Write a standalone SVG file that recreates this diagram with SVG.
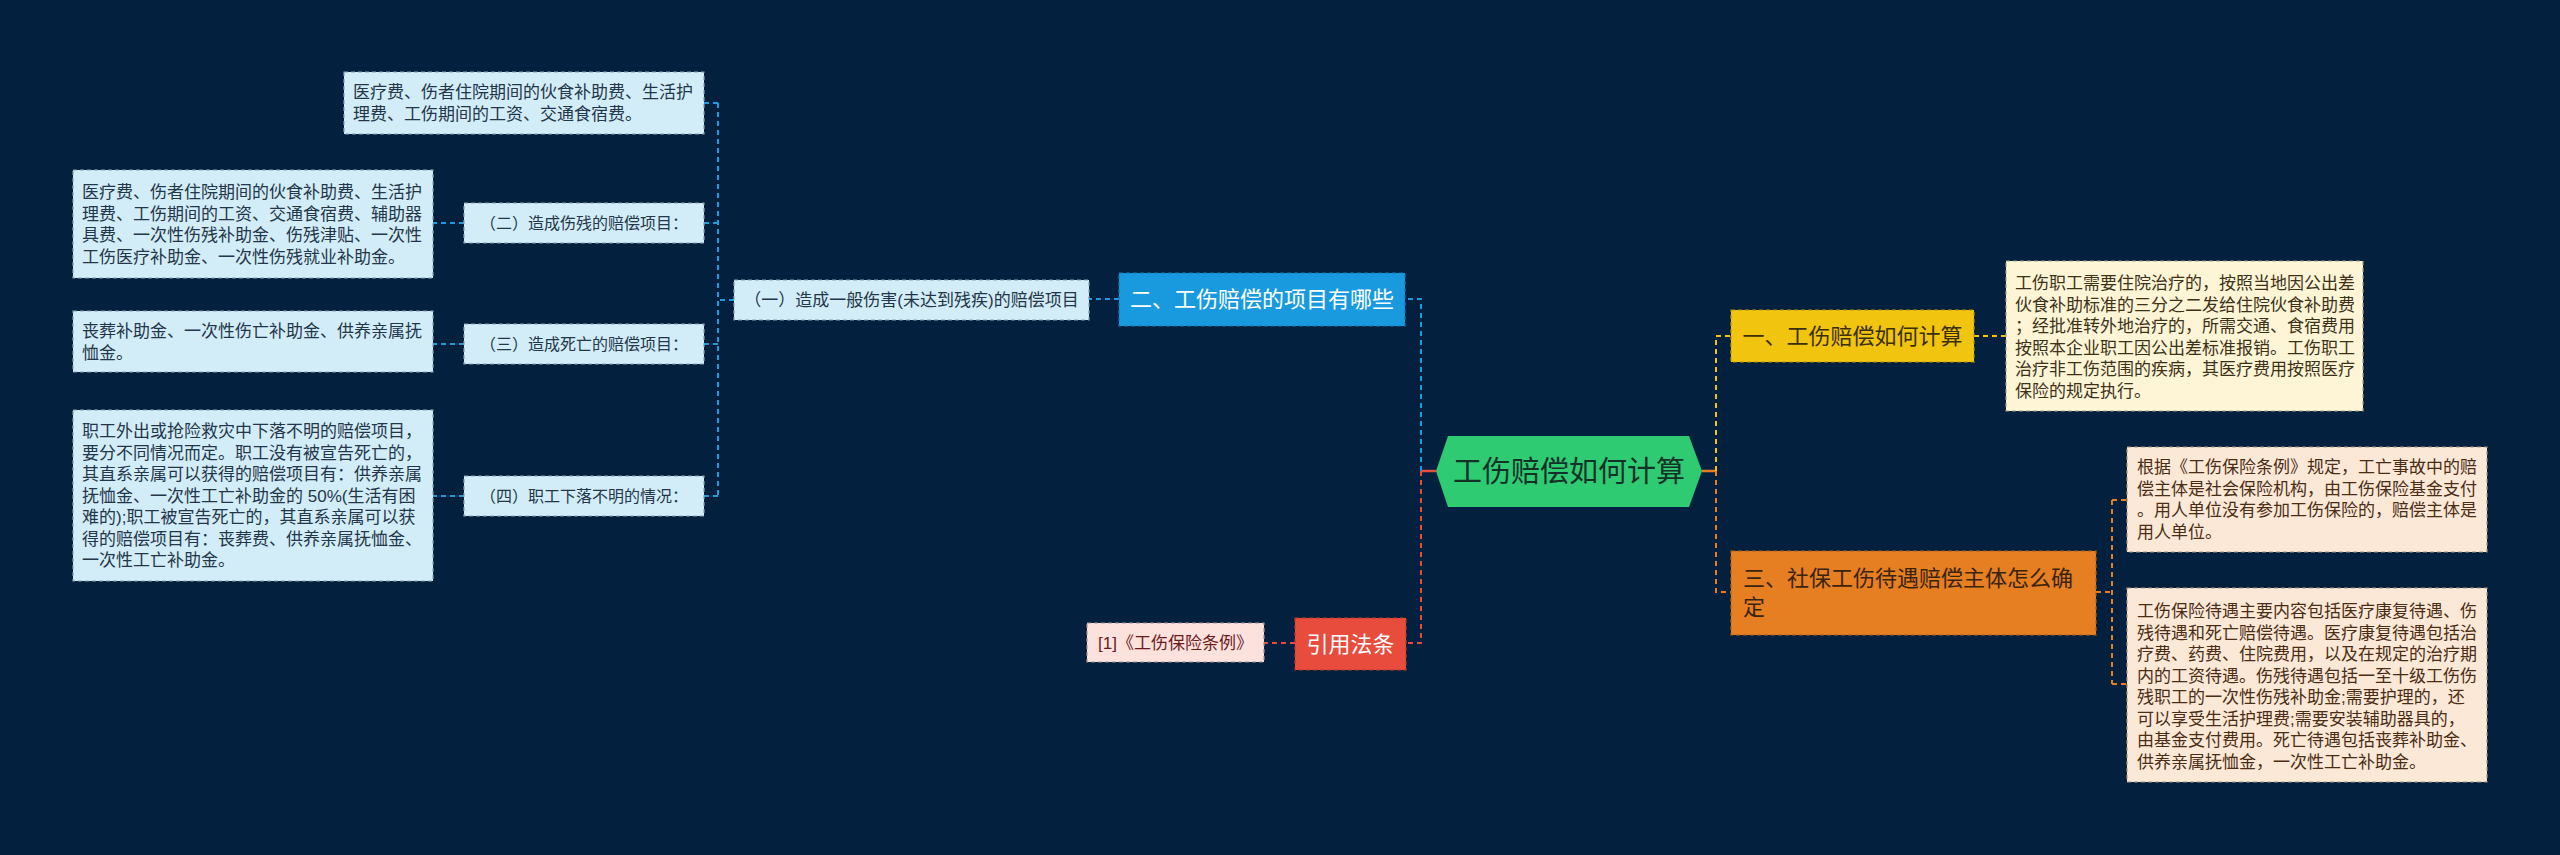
<svg xmlns="http://www.w3.org/2000/svg" width="2560" height="855" viewBox="0 0 2560 855">
<style>
text{font-family:"Liberation Sans","Noto Sans CJK SC",sans-serif}
.t17{font-size:17px}
.t16{font-size:16px}
.t22{font-size:22px}
.lb{fill:#d3edf8;stroke:#8a9fae;stroke-width:1.2;stroke-dasharray:4 3}
.lbt{fill:#24364a}
.cb{fill:#fdf5d6;stroke:#a89c80;stroke-width:1.2;stroke-dasharray:4 3}
.cbt{fill:#3d3218}
.pb{fill:#fce8d7;stroke:#a8947f;stroke-width:1.2;stroke-dasharray:4 3}
.pbt{fill:#4a2d14}
.cl{fill:none;stroke-width:2;stroke-dasharray:5 4}
.blue{stroke:#1e9be0}
.red{stroke:#e74c3c}
.yel{stroke:#f1c40f}
.org{stroke:#e67e22}
</style>
<rect x="0" y="0" width="2560" height="855" fill="#03213e"/>

<g id="connectors">
  <line x1="1436" y1="471" x2="1421" y2="471" stroke="#e74c3c" stroke-width="2.5"/>
  <path class="cl blue" d="M1421 471 V299 H1405"/>
  <path class="cl red" d="M1421 471 V643 H1406"/>
  <path class="cl red" d="M1295 643 H1264"/>
  <path class="cl blue" d="M1119 299 H1089"/>
  <path class="cl blue" d="M734 300 H718"/>
  <path class="cl blue" d="M718 103 V496"/>
  <path class="cl blue" d="M718 103 H704"/>
  <path class="cl blue" d="M718 223 H704"/>
  <path class="cl blue" d="M718 344 H704"/>
  <path class="cl blue" d="M718 496 H704"/>
  <path class="cl blue" d="M464 223 H433"/>
  <path class="cl blue" d="M464 344 H433"/>
  <path class="cl blue" d="M464 496 H433"/>
  <line x1="1702" y1="471" x2="1716" y2="471" stroke="#e67e22" stroke-width="2.5"/>
  <path class="cl yel" d="M1716 471 V336 H1731"/>
  <path class="cl yel" d="M1974 336 H2006"/>
  <path class="cl org" d="M1716 471 V592 H1731"/>
  <path class="cl org" d="M2096 592 H2112"/>
  <path class="cl org" d="M2112 500 V684"/>
  <path class="cl org" d="M2112 500 H2127"/>
  <path class="cl org" d="M2112 684 H2127"/>
</g>

<g id="center">
  <polygon points="1436,471 1448,436 1689,436 1702,471 1689,507 1448,507" fill="#2fcb72"/>
  <text x="1569" y="482" font-size="29" fill="#143128" text-anchor="middle">工伤赔偿如何计算</text>
</g>

<g id="node-b2">
  <rect x="1119" y="273" width="286" height="53" fill="#1a9ade" stroke="#1478b0" stroke-width="1.2" stroke-dasharray="4 3"/>
  <text x="1262" y="307" class="t22" fill="#ffffff" text-anchor="middle">二、工伤赔偿的项目有哪些</text>
</g>

<g id="node-b2-1">
  <rect class="lb" x="734" y="280" width="355" height="40"/>
  <text x="911.5" y="306" class="t17 lbt" text-anchor="middle">（一）造成一般伤害(未达到残疾)的赔偿项目</text>
</g>

<g id="node-a">
  <rect class="lb" x="344" y="72" width="360" height="62"/>
  <text class="t17 lbt" x="353" y="98">医疗费、伤者住院期间的伙食补助费、生活护</text>
  <text class="t17 lbt" x="353" y="120">理费、工伤期间的工资、交通食宿费。</text>
</g>

<g id="node-b2-2">
  <rect class="lb" x="464" y="203" width="240" height="40"/>
  <text x="584" y="229" class="t16 lbt" text-anchor="middle">（二）造成伤残的赔偿项目：</text>
</g>

<g id="node-b2-2-c">
  <rect class="lb" x="73" y="170" width="360" height="108"/>
  <text class="t17 lbt" x="82" y="198">医疗费、伤者住院期间的伙食补助费、生活护</text>
  <text class="t17 lbt" x="82" y="219.5">理费、工伤期间的工资、交通食宿费、辅助器</text>
  <text class="t17 lbt" x="82" y="241">具费、一次性伤残补助金、伤残津贴、一次性</text>
  <text class="t17 lbt" x="82" y="262.5">工伤医疗补助金、一次性伤残就业补助金。</text>
</g>

<g id="node-b2-3">
  <rect class="lb" x="464" y="324" width="240" height="40"/>
  <text x="584" y="350" class="t16 lbt" text-anchor="middle">（三）造成死亡的赔偿项目：</text>
</g>

<g id="node-b2-3-c">
  <rect class="lb" x="73" y="311" width="360" height="61"/>
  <text class="t17 lbt" x="82" y="337">丧葬补助金、一次性伤亡补助金、供养亲属抚</text>
  <text class="t17 lbt" x="82" y="358.5">恤金。</text>
</g>

<g id="node-b2-4">
  <rect class="lb" x="464" y="476" width="240" height="40"/>
  <text x="584" y="502" class="t16 lbt" text-anchor="middle">（四）职工下落不明的情况：</text>
</g>

<g id="node-b2-4-c">
  <rect class="lb" x="73" y="410" width="360" height="171"/>
  <text class="t17 lbt" x="82" y="437">职工外出或抢险救灾中下落不明的赔偿项目，</text>
  <text class="t17 lbt" x="82" y="458.5">要分不同情况而定。职工没有被宣告死亡的，</text>
  <text class="t17 lbt" x="82" y="480">其直系亲属可以获得的赔偿项目有：供养亲属</text>
  <text class="t17 lbt" x="82" y="501.5">抚恤金、一次性工亡补助金的 50%(生活有困</text>
  <text class="t17 lbt" x="82" y="523">难的);职工被宣告死亡的，其直系亲属可以获</text>
  <text class="t17 lbt" x="82" y="544.5">得的赔偿项目有：丧葬费、供养亲属抚恤金、</text>
  <text class="t17 lbt" x="82" y="566">一次性工亡补助金。</text>
</g>

<g id="node-ref">
  <rect x="1295" y="618" width="111" height="52" fill="#e74c3c" stroke="#b83a2e" stroke-width="1.2" stroke-dasharray="4 3"/>
  <text x="1350.5" y="652" class="t22" fill="#ffffff" text-anchor="middle">引用法条</text>
</g>

<g id="node-ref-1">
  <rect x="1087" y="623" width="177" height="39" fill="#fde1dd" stroke="#a89090" stroke-width="1.2" stroke-dasharray="4 3"/>
  <text x="1175.5" y="648.5" class="t17" fill="#6a1c1c" text-anchor="middle">[1]《工伤保险条例》</text>
</g>

<g id="node-b1">
  <rect x="1731" y="310" width="243" height="52" fill="#f1c40f" stroke="#b8950c" stroke-width="1.2" stroke-dasharray="4 3"/>
  <text x="1852.5" y="344" class="t22" fill="#3a300c" text-anchor="middle">一、工伤赔偿如何计算</text>
</g>

<g id="node-b1-c">
  <rect class="cb" x="2006" y="261" width="357" height="150"/>
  <text class="t17 cbt" x="2015" y="289">工伤职工需要住院治疗的，按照当地因公出差</text>
  <text class="t17 cbt" x="2015" y="310.5">伙食补助标准的三分之二发给住院伙食补助费</text>
  <text class="t17 cbt" x="2015" y="332">；经批准转外地治疗的，所需交通、食宿费用</text>
  <text class="t17 cbt" x="2015" y="353.5">按照本企业职工因公出差标准报销。工伤职工</text>
  <text class="t17 cbt" x="2015" y="375">治疗非工伤范围的疾病，其医疗费用按照医疗</text>
  <text class="t17 cbt" x="2015" y="396.5">保险的规定执行。</text>
</g>

<g id="node-b3">
  <rect x="1731" y="551" width="365" height="84" fill="#e67e22" stroke="#b0601a" stroke-width="1.2" stroke-dasharray="4 3"/>
  <text class="t22" fill="#3a2410" x="1743" y="586">三、社保工伤待遇赔偿主体怎么确</text>
  <text class="t22" fill="#3a2410" x="1743" y="615">定</text>
</g>

<g id="node-b3-1">
  <rect class="pb" x="2127" y="447" width="360" height="105"/>
  <text class="t17 pbt" x="2137" y="473">根据《工伤保险条例》规定，工亡事故中的赔</text>
  <text class="t17 pbt" x="2137" y="494.5">偿主体是社会保险机构，由工伤保险基金支付</text>
  <text class="t17 pbt" x="2137" y="516">。用人单位没有参加工伤保险的，赔偿主体是</text>
  <text class="t17 pbt" x="2137" y="537.5">用人单位。</text>
</g>

<g id="node-b3-2">
  <rect class="pb" x="2127" y="588" width="360" height="194"/>
  <text class="t17 pbt" x="2137" y="617">工伤保险待遇主要内容包括医疗康复待遇、伤</text>
  <text class="t17 pbt" x="2137" y="638.5">残待遇和死亡赔偿待遇。医疗康复待遇包括治</text>
  <text class="t17 pbt" x="2137" y="660">疗费、药费、住院费用，以及在规定的治疗期</text>
  <text class="t17 pbt" x="2137" y="681.5">内的工资待遇。伤残待遇包括一至十级工伤伤</text>
  <text class="t17 pbt" x="2137" y="703">残职工的一次性伤残补助金;需要护理的，还</text>
  <text class="t17 pbt" x="2137" y="724.5">可以享受生活护理费;需要安装辅助器具的，</text>
  <text class="t17 pbt" x="2137" y="746">由基金支付费用。死亡待遇包括丧葬补助金、</text>
  <text class="t17 pbt" x="2137" y="767.5">供养亲属抚恤金，一次性工亡补助金。</text>
</g>
</svg>
